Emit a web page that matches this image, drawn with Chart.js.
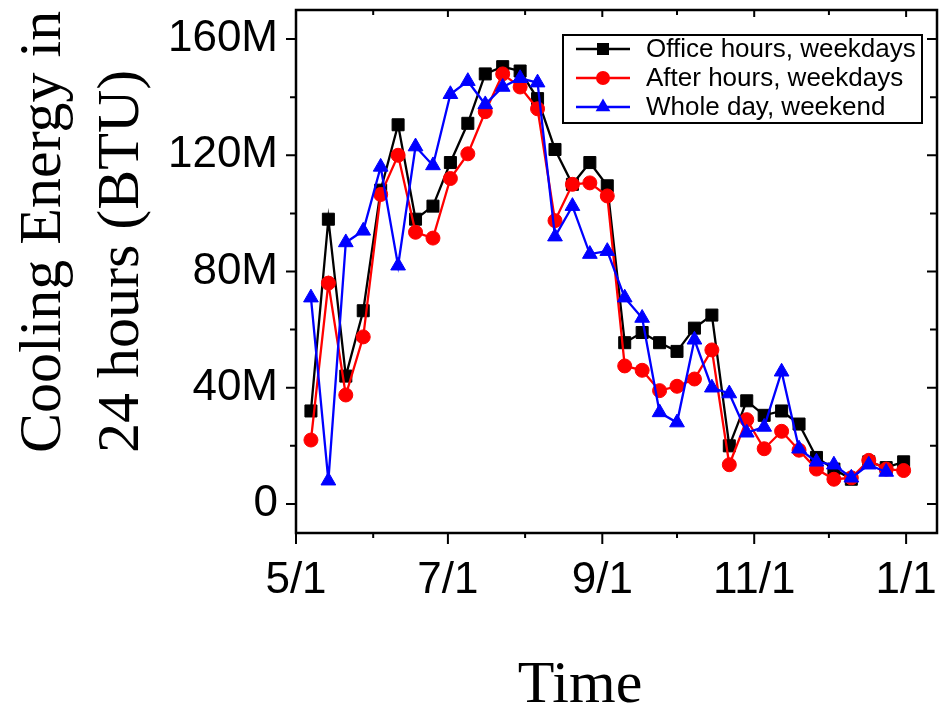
<!DOCTYPE html>
<html>
<head>
<meta charset="utf-8">
<script src="https://cdn.jsdelivr.net/npm/chart.js@4.4.0/dist/chart.umd.min.js"></script>
<style>
  html, body { margin: 0; padding: 0; background: #fff; }
  #wrap { width: 940px; height: 708px; }
</style>
</head>
<body>
<div id="wrap"><canvas id="myChart" width="940" height="708"></canvas></div>
<script>
// weekly samples (m/d)
var dates = ['5/7', '5/14', '5/21', '5/28', '6/4', '6/11', '6/18', '6/25',
  '7/2', '7/9', '7/16', '7/23', '7/30', '8/6', '8/13', '8/20', '8/27',
  '9/3', '9/10', '9/17', '9/24', '10/1', '10/8', '10/15', '10/22', '10/29',
  '11/5', '11/12', '11/19', '11/26', '12/3', '12/10', '12/17', '12/24', '12/31'];

// cooling energy, millions of BTU
var officeHours = [32, 98, 44, 66.5, 108, 130.5, 98, 102.5, 117.5, 131, 148, 150.5,
  149, 139.5, 122, 110, 117.5, 109.5, 55.5, 59, 55.5, 52.5, 60.5, 65,
  20, 35.5, 30.5, 32, 27.5, 16, 12, 8.5, 14.5, 12.5, 14.5];
var afterHours = [22, 76, 37.5, 57.5, 106.5, 120, 93.5, 91.5, 112, 120.5, 135, 148,
  143.5, 136, 97.5, 110, 110.5, 106, 47.5, 46, 39, 40.5, 43, 53,
  13.5, 29, 19, 25, 18.5, 12, 8.5, 9, 15, 12, 11.5];
var weekend = [71, 8, 90, 94, 116, 82, 123, 116.5, 141, 145.5, 137.5, 143.5,
  146.5, 145, 92, 102.5, 86, 87, 71, 64, 31.5, 28, 56.5, 40,
  38, 24.5, 26.5, 45.5, 19, 14.5, 13.5, 9, 13.5, 11];

var seriesNames = ['Office hours, weekdays', 'After hours, weekdays', 'Whole day, weekend'];
var xMajor = ['5/1', '7/1', '9/1', '11/1', '1/1'];
var xMinor = ['6/1', '8/1', '10/1', '12/1'];
var yMajor = [0, 40, 80, 120, 160];
var yMinor = [20, 60, 100, 140];
var yTitle = ['Cooling Energy in', '24 hours (BTU)'];
var xTitle = 'Time';

// days since 5/1
var monthStart = {5: 0, 6: 31, 7: 61, 8: 92, 9: 123, 10: 153, 11: 184, 12: 214, 1: 245};
function dayOf(s) {
  var p = s.split('/');
  return monthStart[+p[0]] + (+p[1]) - 1;
}
function toPoints(vals) {
  return vals.map(function (v, i) { return {x: dayOf(dates[i]), y: v}; });
}

var sansFont = '"Liberation Sans", Arial, sans-serif';
var serifFont = '"Liberation Serif", "Times New Roman", serif';

function marker(ctx, style, color, r, cx, cy) {
  ctx.fillStyle = color;
  ctx.beginPath();
  if (style === 'rect') {
    var s = r * Math.SQRT1_2;
    ctx.rect(cx - s, cy - s, 2 * s, 2 * s);
  } else if (style === 'circle') {
    ctx.arc(cx, cy, r, 0, Math.PI * 2);
  } else {
    ctx.moveTo(cx, cy - r);
    ctx.lineTo(cx + r * Math.sin(Math.PI * 2 / 3), cy - r * Math.cos(Math.PI * 2 / 3));
    ctx.lineTo(cx + r * Math.sin(Math.PI * 4 / 3), cy - r * Math.cos(Math.PI * 4 / 3));
    ctx.closePath();
  }
  ctx.fill();
}

// box frame with ticks on all four sides
var framePlugin = {
  id: 'frame',
  afterDatasetsDraw: function (chart) {
    var ctx = chart.ctx, a = chart.chartArea;
    var x = chart.scales.x, y = chart.scales.y;
    ctx.save();
    ctx.strokeStyle = '#000';
    ctx.lineWidth = 2.5;
    ctx.strokeRect(a.left, a.top, a.right - a.left, a.bottom - a.top);
    ctx.lineWidth = 2;
    ctx.beginPath();
    function seg(x1, y1, x2, y2) { ctx.moveTo(x1, y1); ctx.lineTo(x2, y2); }
    xMajor.forEach(function (d) {
      var px = x.getPixelForValue(dayOf(d));
      seg(px, a.bottom, px, a.bottom + 11);
      seg(px, a.top, px, a.top + 7);
    });
    xMinor.forEach(function (d) {
      var px = x.getPixelForValue(dayOf(d));
      seg(px, a.bottom, px, a.bottom + 5);
      seg(px, a.top, px, a.top + 5);
    });
    yMajor.forEach(function (v) {
      var py = y.getPixelForValue(v);
      seg(a.left - 10, py, a.left, py);
      seg(a.right - 10, py, a.right, py);
    });
    yMinor.forEach(function (v) {
      var py = y.getPixelForValue(v);
      seg(a.left - 6, py, a.left, py);
      seg(a.right - 7, py, a.right, py);
    });
    ctx.stroke();
    ctx.restore();
  }
};

// legend box in the upper right and the axis titles
var textPlugin = {
  id: 'texts',
  afterDraw: function (chart) {
    var ctx = chart.ctx, a = chart.chartArea;
    ctx.save();
    var bx = a.right - 374, by = a.top + 25;
    ctx.strokeStyle = '#000';
    ctx.lineWidth = 2;
    ctx.strokeRect(bx, by, 359, 88);
    chart.data.datasets.forEach(function (ds, i) {
      var ly = by + 14 + i * 29;
      ctx.strokeStyle = ds.borderColor;
      ctx.lineWidth = 2.3;
      ctx.beginPath();
      ctx.moveTo(bx + 13, ly);
      ctx.lineTo(bx + 67, ly);
      ctx.stroke();
      marker(ctx, ds.pointStyle, ds.borderColor, ds.pointRadius, bx + 40, ly);
      ctx.fillStyle = '#000';
      ctx.font = '26px ' + sansFont;
      ctx.textAlign = 'left';
      ctx.textBaseline = 'middle';
      ctx.fillText(ds.label, bx + 83, ly + 1);
    });

    ctx.fillStyle = '#000';
    ctx.font = '60px ' + serifFont;
    ctx.textBaseline = 'alphabetic';
    ctx.textAlign = 'left';
    yTitle.forEach(function (line, i) {
      ctx.save();
      ctx.translate(60 + i * 78, 453);
      ctx.rotate(-Math.PI / 2);
      ctx.fillText(line, 0, 0);
      ctx.restore();
    });
    ctx.textAlign = 'center';
    ctx.fillText(xTitle, 580, 702);
    ctx.restore();
  }
};

var colors = ['#000000', '#ff0000', '#0000ff'];
var styles = ['rect', 'circle', 'triangle'];
var radii = [8.5, 7, 8.5];
var values = [officeHours, afterHours, weekend];

const ctx = document.getElementById('myChart');
new Chart(ctx, {
  type: 'line',
  data: {
    datasets: values.map(function (vals, i) {
      return {
        label: seriesNames[i],
        data: toPoints(vals),
        borderColor: colors[i],
        backgroundColor: colors[i],
        pointBackgroundColor: colors[i],
        pointBorderColor: colors[i],
        pointStyle: styles[i],
        pointRadius: radii[i],
        pointBorderWidth: 1,
        borderWidth: 2.3,
        tension: 0,
        clip: false,
        order: 3 - i
      };
    })
  },
  options: {
    responsive: false,
    animation: false,
    devicePixelRatio: 1,
    layout: { autoPadding: false, padding: { left: 0, top: 10, right: 3, bottom: 0 } },
    plugins: { legend: { display: false }, tooltip: { enabled: false } },
    scales: {
      x: {
        type: 'linear',
        min: 0,
        max: 257.4,
        grid: { display: false, drawTicks: false },
        border: { display: false },
        afterBuildTicks: function (scale) {
          scale.ticks = xMajor.map(function (d) { return {value: dayOf(d)}; });
        },
        afterFit: function (scale) {
          scale.height = 175;
          scale.paddingLeft = 0;
          scale.paddingRight = 0;
        },
        ticks: {
          autoSkip: false,
          maxRotation: 0,
          padding: 21,
          color: '#000',
          font: { family: sansFont, size: 44 },
          callback: function (v, i) { return xMajor[i]; }
        }
      },
      y: {
        min: -10,
        max: 170,
        grid: { display: false, drawTicks: false },
        border: { display: false },
        afterBuildTicks: function (scale) {
          scale.ticks = yMajor.map(function (v) { return {value: v}; });
        },
        afterFit: function (scale) {
          scale.width = 296;
          scale.paddingTop = 0;
          scale.paddingBottom = 0;
        },
        ticks: {
          padding: 18,
          color: '#000',
          font: { family: sansFont, size: 44 },
          callback: function (v) { return v === 0 ? '0' : v + 'M'; }
        }
      }
    }
  },
  plugins: [framePlugin, textPlugin]
});
</script>
</body>
</html>
